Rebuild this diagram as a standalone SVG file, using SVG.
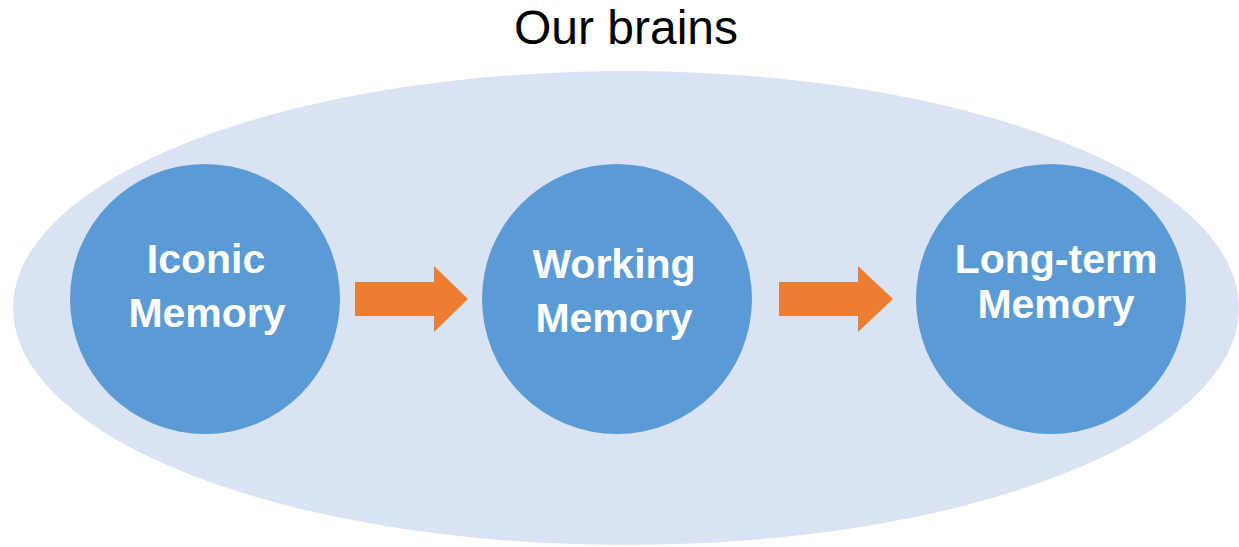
<svg xmlns="http://www.w3.org/2000/svg" width="1239" height="547" viewBox="0 0 1239 547">
<style>
.bg{fill:#DAE3F3}
.node{fill:#5B9BD5}
.lbl{font-family:"Liberation Sans",Arial,sans-serif;font-weight:bold;font-size:41px;fill:#FFFFFF;text-anchor:middle}
.title{font-family:"Liberation Sans",Arial,sans-serif;font-size:48px;fill:#000000;text-anchor:middle}
.arrow{fill:#ED7D31}
</style>
<rect width="1239" height="547" fill="#FFFFFF"/>
<g id="brain">
<ellipse class="bg" cx="626" cy="308" rx="613" ry="237"/>
<text class="title" x="626" y="44">Our brains</text>
</g>
<g id="iconic">
<circle class="node" cx="205" cy="299" r="135"/>
<text class="lbl" x="206" y="273">Iconic</text>
<text class="lbl" x="207" y="327">Memory</text>
</g>
<g id="working">
<circle class="node" cx="617" cy="299" r="135"/>
<text class="lbl" x="614" y="278">Working</text>
<text class="lbl" x="614" y="332">Memory</text>
</g>
<g id="longterm">
<circle class="node" cx="1051" cy="299" r="135"/>
<text class="lbl" x="1056" y="273">Long-term</text>
<text class="lbl" x="1056" y="318">Memory</text>
</g>
<g id="connectors">
<polygon class="arrow" points="355,282 434,282 434,266 468,299 434,332 434,316 355,316"/>
<polygon class="arrow" points="779,282 858,282 858,266 893,299 858,332 858,316 779,316"/>
</g>
</svg>
